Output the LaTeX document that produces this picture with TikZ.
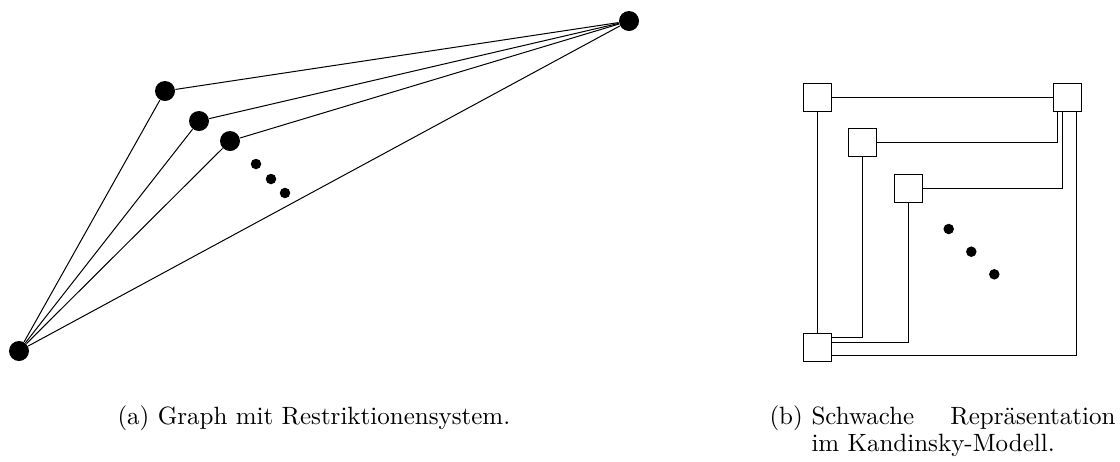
\documentclass[tikz,border=0pt]{standalone}
\usepackage{tikz}

\begin{document}
\begin{tikzpicture}[x=0.4pt, y=-0.4pt,
    vertex/.style={circle, fill=black, inner sep=0pt, minimum size=8pt},
    dot/.style={circle, fill=black, inner sep=0pt, minimum size=4.2pt},
    box/.style={draw, rectangle, fill=white, inner sep=0pt, minimum size=11.2pt},
    caption/.style={inner sep=0pt, anchor=base west, font=\fontsize{10}{10.8}\selectfont}]
    \useasboundingbox (0,0) rectangle (1120,461);

    % Graph (a): nodes
    \node [vertex] (s) at (19,351) {};
    \node [vertex] (t) at (629,21) {};
    \node [vertex] (v1) at (165,91) {};
    \node [vertex] (v2) at (199,121) {};
    \node [vertex] (v3) at (230,141) {};
    \node [dot] (d1) at (256,164) {};
    \node [dot] (d2) at (271,179) {};
    \node [dot] (d3) at (285,193) {};

    % Graph (a): edges
    \draw (s) -- (t);
    \draw (s) -- (v1) -- (t);
    \draw (s) -- (v2) -- (t);
    \draw (s) -- (v3) -- (t);

    % Kandinsky (b): nodes
    \node [box] (tl) at (817,97) {};
    \node [box] (tr) at (1067,97) {};
    \node [box] (k2) at (862.5,142.7) {};
    \node [box] (k3) at (908,188) {};
    \node [box] (bl) at (817,347) {};
    \node [dot] (e1) at (948.7,229) {};
    \node [dot] (e2) at (971.3,251.7) {};
    \node [dot] (e3) at (994.3,274.3) {};

    % Kandinsky (b): edges
    \draw (tl) -- (tr);
    \draw (tl) -- (bl);
    \draw (k2.east) -| ([xshift=-3.8pt]tr.south);
    \draw (k3.east) -| ([xshift=-1.8pt]tr.south);
    \draw ([xshift=3.6pt]tr.south) |- ([yshift=-3.5pt]bl.east);
    \draw (k2.south) |- ([yshift=3.8pt]bl.east);
    \draw (k3.south) |- ([yshift=1.8pt]bl.east);

    % Captions
    \node [caption] (capa) at (117,424) {(a) Graph mit Restriktionensystem.};
    \node [caption] (capb) at (769,424) {(b)};
    \node [caption, text width=121.6pt, align=left] (capbtext) at (811,424)
        {Schwache\hfill Repräsentation\\im Kandinsky-Modell.};
\end{tikzpicture}
\end{document}
